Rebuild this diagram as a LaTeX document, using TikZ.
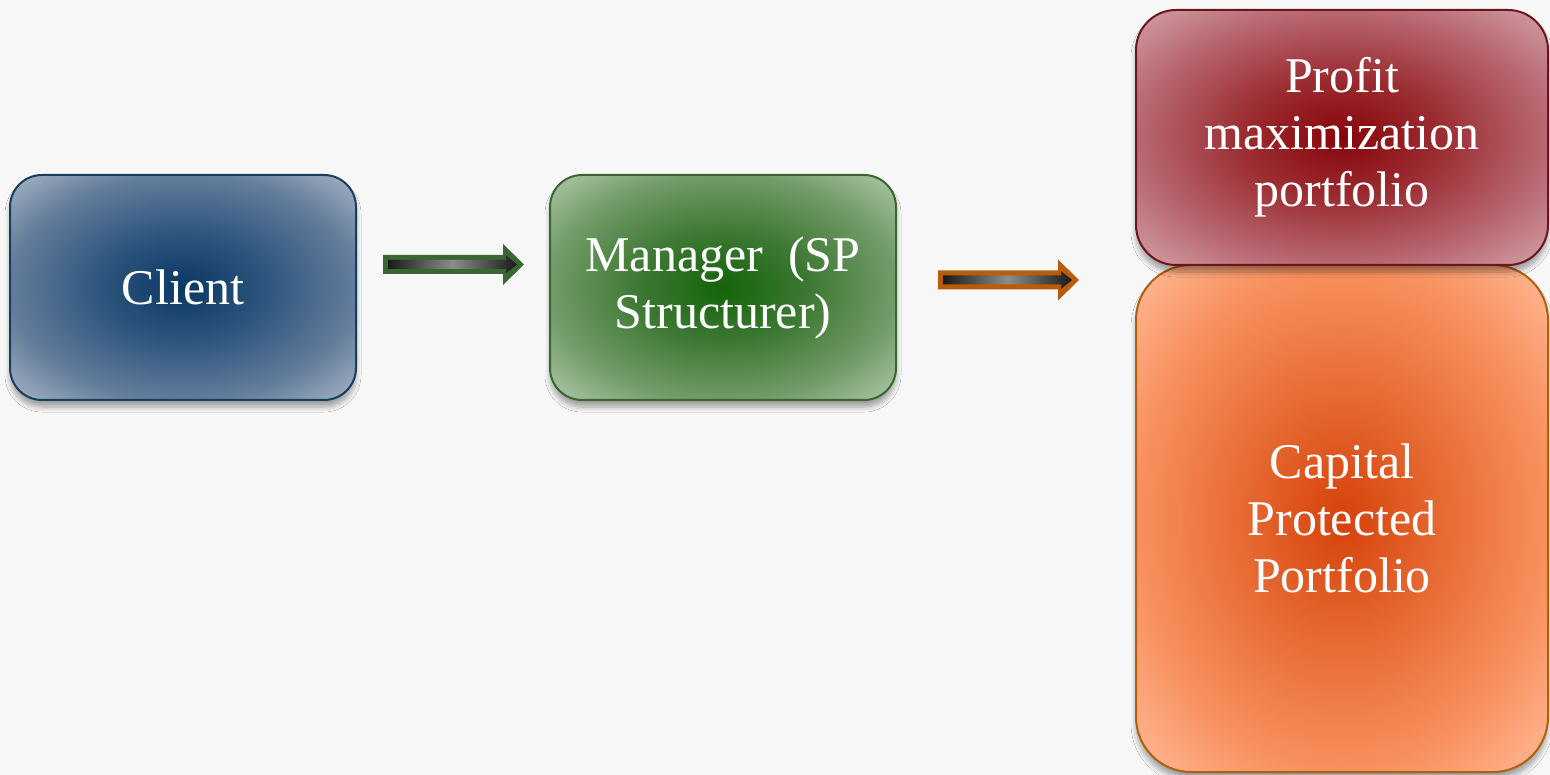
\documentclass[tikz,border=0pt]{standalone}
\usepackage{fontspec}
\setmainfont{Liberation Serif}
\usetikzlibrary{calc,shadows.blur}

% palette
\definecolor{pagebg}{RGB}{247,247,247}
\definecolor{cliA}{RGB}{10,55,100}
\definecolor{cliB}{RGB}{45,85,125}
\definecolor{cliC}{RGB}{100,125,155}
\definecolor{cliD}{RGB}{165,180,195}
\definecolor{cliLine}{RGB}{22,62,95}
\definecolor{manA}{RGB}{20,100,10}
\definecolor{manB}{RGB}{60,120,50}
\definecolor{manC}{RGB}{115,155,105}
\definecolor{manD}{RGB}{175,200,170}
\definecolor{manLine}{RGB}{58,102,46}
\definecolor{proA}{RGB}{135,5,10}
\definecolor{proB}{RGB}{155,45,50}
\definecolor{proC}{RGB}{185,105,115}
\definecolor{proD}{RGB}{210,160,165}
\definecolor{proLine}{RGB}{107,21,32}
\definecolor{capA}{RGB}{215,65,10}
\definecolor{capB}{RGB}{230,105,50}
\definecolor{capC}{RGB}{248,145,95}
\definecolor{capD}{RGB}{255,185,150}
\definecolor{capLine}{RGB}{176,96,10}
\definecolor{arrGreen}{RGB}{58,102,48}
\definecolor{arrOrange}{RGB}{184,92,10}

% centre-to-edge glow for each box
\pgfdeclareradialshading{clishade}{\pgfpoint{0bp}{0bp}}{color(0bp)=(cliA); color(12bp)=(cliB); color(25bp)=(cliC); color(35bp)=(cliD); color(50bp)=(cliD)}
\pgfdeclareradialshading{manshade}{\pgfpoint{0bp}{0bp}}{color(0bp)=(manA); color(12bp)=(manB); color(25bp)=(manC); color(35bp)=(manD); color(50bp)=(manD)}
\pgfdeclareradialshading{proshade}{\pgfpoint{0bp}{0bp}}{color(0bp)=(proA); color(12bp)=(proB); color(25bp)=(proC); color(35bp)=(proD); color(50bp)=(proD)}
\pgfdeclareradialshading{capshade}{\pgfpoint{0bp}{0bp}}{color(0bp)=(capA); color(12bp)=(capB); color(25bp)=(capC); color(35bp)=(capD); color(50bp)=(capD)}

\tikzset{
  card/.style={rectangle, draw, line width=2pt, shade, text=white, align=center,
    font=\fontsize{50}{57}\selectfont, inner sep=0pt,
    blur shadow={shadow xshift=0pt, shadow yshift=-7pt, shadow blur radius=5pt,
      shadow blur steps=8, shadow opacity=35}},
}

% block arrow from #1 to #2, outline colour #3
\newcommand\blockarrow[3]{%
  \fill[#3] ($(#1)+(0,-9.5)$) -- ($(#2)+(-21,-9.5)$) -- ($(#2)+(-21,-20.5)$) -- (#2)
    -- ($(#2)+(-21,20.5)$) -- ($(#2)+(-21,9.5)$) -- ($(#1)+(0,9.5)$) -- cycle;
  \shade[left color=black!90, right color=black!90, middle color=black!45]
    ($(#1)+(5,-4.5)$) -- ($(#2)+(-18,-4.5)$) -- ($(#2)+(-18,-9)$) -- ($(#2)+(-7,0)$)
    -- ($(#2)+(-18,9)$) -- ($(#2)+(-18,4.5)$) -- ($(#1)+(5,4.5)$) -- cycle;
}

\begin{document}
\begin{tikzpicture}[x=1pt,y=-1pt]
  \useasboundingbox (0,0) rectangle (1550,775);
  \fill[pagebg] (0,0) rectangle (1550,775);

  \node[card, draw=cliLine, shading=clishade, rounded corners=32pt,
        minimum width=346pt, minimum height=225pt] (client) at (183,287.5) {Client};
  \node[card, draw=manLine, shading=manshade, rounded corners=32pt,
        minimum width=346pt, minimum height=225pt] (manager) at (723,287.5) {Manager~~(SP\\Structurer)};
  \node[card, draw=capLine, shading=capshade, rounded corners=55pt,
        minimum width=412pt, minimum height=507pt] (capital) at (1342,518.5) {Capital\\Protected\\Portfolio};
  \node[card, draw=proLine, shading=proshade, rounded corners=40pt,
        minimum width=412pt, minimum height=255pt] (profit) at (1342,137.5) {Profit\\maximization\\portfolio};

  \coordinate (a1s) at (383,264.5);
  \coordinate (a1e) at (524,264.5);
  \coordinate (a2s) at (938,280);
  \coordinate (a2e) at (1079,280);
  \blockarrow{a1s}{a1e}{arrGreen}
  \blockarrow{a2s}{a2e}{arrOrange}
\end{tikzpicture}
\end{document}
